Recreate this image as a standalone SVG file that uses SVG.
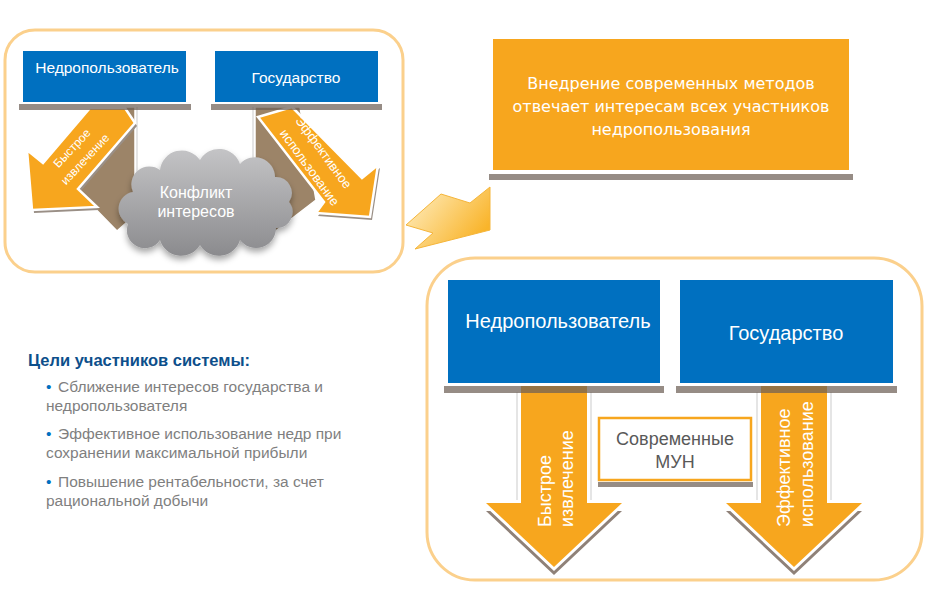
<svg xmlns="http://www.w3.org/2000/svg" width="934" height="606" viewBox="0 0 934 606">
<style>
.panel{fill:#fff;stroke:#fbd08c;stroke-width:3}
.blue{fill:#0070c0}
.bar{fill:#6e5f56;opacity:.72}
.wt{fill:#fff;font-family:"Liberation Sans",Arial,sans-serif}
.orange{fill:#f7a61e}
.brown{fill:#9c8468}
.lbl{font-family:"Liberation Sans",Arial,sans-serif}
.gray{fill:#7f7f7f;font-size:15.5px}
.dot{fill:#0070c0}
.vline{stroke:#dcdcdc;stroke-width:1.5}
.hshadow{fill:#9a8f86}
</style>
<defs>
<linearGradient id="cloudG" x1="0" y1="0" x2="0" y2="1">
<stop offset="0" stop-color="#c4c4c6"/>
<stop offset="1" stop-color="#8b8b8e"/>
</linearGradient>
<linearGradient id="yelG" x1="0" y1="0" x2="1" y2="0.6">
<stop offset="0" stop-color="#fff2cc"/>
<stop offset="1" stop-color="#f9b42a"/>
</linearGradient>
<filter id="sh" x="-20%" y="-20%" width="140%" height="150%">
<feDropShadow dx="0" dy="4" stdDeviation="3" flood-color="#000" flood-opacity="0.35"/>
</filter>
</defs>

<!-- panels -->
<rect id="panel-left" class="panel" x="5" y="30" width="398" height="242" rx="30"/>
<rect id="panel-right" class="panel" x="427" y="258" width="495" height="322" rx="48"/>

<!-- connectors / arrows -->
<g id="connectors">
  <!-- top-left brown shadows -->
  <line class="vline" x1="137" y1="107" x2="137" y2="222"/>
  <line class="vline" x1="253" y1="107" x2="253" y2="214"/>
  <polygon class="brown" points="90,107 135,107 135,215 117,231 77,190" stroke="#fff" stroke-width="1.5"/>
  <polygon class="brown" points="255,107 300,107 316,200 273,233 255,214" stroke="#fff" stroke-width="1.5"/>
  <!-- head shadows -->
  <polygon class="hshadow" points="90,108 125,108 135,123 78,189 97,207 32,210 27,150 43,163" transform="translate(2,3)"/>
  <polygon class="hshadow" points="258,117 292,107 362,178 378,165 370,217 316,213 324,202" transform="translate(2,3)"/>
  <!-- top-left orange arrows -->
  <polygon class="orange" points="90,108 125,108 135,123 78,189 97,207 32,210 27,150 43,163" stroke="#fff" stroke-width="2.5" stroke-linejoin="miter"/>
  <polygon class="orange" points="258,117 292,107 362,178 378,165 370,217 316,213 324,202" stroke="#fff" stroke-width="2.5" stroke-linejoin="miter"/>
  <text class="wt" font-size="12" text-anchor="middle" transform="translate(75,151) rotate(-47)">Быстрое</text>
  <text class="wt" font-size="12" text-anchor="middle" transform="translate(88,162) rotate(-47)">извлечение</text>
  <text class="wt" font-size="13" text-anchor="middle" transform="translate(320,155) rotate(54)">Эффективное</text>
  <text class="wt" font-size="13" text-anchor="middle" transform="translate(306,170) rotate(54)">использование</text>

  <!-- yellow transition arrow -->
  <polygon points="406,225 441,194 470,203 490,187 490,230 415,249 433,233" fill="url(#yelG)" stroke="#f5b53a" stroke-width="1"/>

  <!-- bottom arrows -->
  <line class="vline" x1="517" y1="392" x2="517" y2="500"/>
  <line class="vline" x1="591" y1="392" x2="591" y2="500"/>
  <line class="vline" x1="757" y1="392" x2="757" y2="500"/>
  <line class="vline" x1="831" y1="392" x2="831" y2="500"/>
  <polygon fill="#8f8178" points="521,392 587,392 587,503 622,503 554,567 486,503 521,503" transform="translate(0,8)"/>
  <polygon fill="#fff" points="521,392 587,392 587,503 622,503 554,567 486,503 521,503" transform="translate(0,4)"/>
  <polygon class="orange" points="521,386 587,386 587,503 622,503 554,567 486,503 521,503"/>
  <polygon fill="#8f8178" points="761,392 827,392 827,503 862,503 794,567 726,503 761,503" transform="translate(0,8)"/>
  <polygon fill="#fff" points="761,392 827,392 827,503 862,503 794,567 726,503 761,503" transform="translate(0,4)"/>
  <polygon class="orange" points="761,386 827,386 827,503 862,503 794,567 726,503 761,503"/>
  <text class="wt" font-size="18" transform="translate(551,527) rotate(-90)">Быстрое</text>
  <text class="wt" font-size="18" transform="translate(573,527) rotate(-90)">извлечение</text>
  <text class="wt" font-size="18" transform="translate(790,527) rotate(-90)">Эффективное</text>
  <text class="wt" font-size="18" transform="translate(813,527) rotate(-90)">использование</text>
</g>

<!-- top-left nodes -->
<g id="node-user-top">
  <rect class="bar" x="19" y="104" width="172" height="6"/>
  <rect class="blue" x="23" y="51" width="163" height="51"/>
  <text class="wt" font-size="15.5" x="107" y="73" text-anchor="middle">Недропользователь</text>
</g>
<g id="node-state-top">
  <rect class="bar" x="211" y="104" width="171" height="6"/>
  <rect class="blue" x="215" y="51" width="163" height="51"/>
  <text class="wt" font-size="15.5" x="296" y="83" text-anchor="middle">Государство</text>
</g>
<g id="node-conflict">
  <path d="M133,192 A18,18 0 0 1 160,170 A22,22 0 0 1 200,160 A22,22 0 0 1 240,164 A20,20 0 0 1 275,177 A16,16 0 0 1 289,202 A16,16 0 0 1 276,228 A20,20 0 0 1 240,240 A22,22 0 0 1 200,245 A22,22 0 0 1 160,240 A18,18 0 0 1 128,224 A17,17 0 0 1 133,192 Z" fill="url(#cloudG)" filter="url(#sh)"/>
  <text class="wt" font-size="16" x="196" y="198" text-anchor="middle">Конфликт</text>
  <text class="wt" font-size="16" x="196" y="217" text-anchor="middle">интересов</text>
</g>

<!-- top-right node -->
<g id="node-methods">
  <rect class="bar" x="489" y="174" width="364" height="6"/>
  <rect class="orange" x="493" y="39" width="356" height="131"/>
  <g font-family="'DejaVu Sans',Verdana,sans-serif" font-size="16" fill="#fff" text-anchor="middle">
    <text x="671" y="89">Внедрение современных методов</text>
    <text x="671" y="112">отвечает интересам всех участников</text>
    <text x="671" y="135">недропользования</text>
  </g>
</g>

<!-- bottom-right nodes -->
<g id="node-user-bottom">
  <rect class="bar" x="444" y="386" width="220" height="7"/>
  <rect class="blue" x="448" y="280" width="212" height="103"/>
  <text class="wt" font-size="20" x="558" y="328" text-anchor="middle">Недропользователь</text>
</g>
<g id="node-state-bottom">
  <rect class="bar" x="676" y="386" width="221" height="7"/>
  <rect class="blue" x="680" y="280" width="213" height="103"/>
  <text class="wt" font-size="20" x="786" y="340" text-anchor="middle">Государство</text>
</g>
<g id="node-mun">
  <rect class="bar" x="598" y="482" width="155" height="5"/>
  <rect x="599" y="418" width="152" height="62" fill="#fff" stroke="#f7a61e" stroke-width="2.5"/>
  <text class="lbl" font-size="18" fill="#595959" x="675" y="445" text-anchor="middle">Современные</text>
  <text class="lbl" font-size="18" fill="#595959" x="675" y="468" text-anchor="middle">МУН</text>
</g>

<!-- goals text -->
<g id="goals" class="lbl">
  <text x="28" y="366" font-size="16.5" font-weight="bold" fill="#0d4f8b">Цели участников системы:</text>
  <text class="dot" x="46" y="392" font-size="15.5">•</text>
  <text class="gray" x="58" y="392">Сближение интересов государства и</text>
  <text class="gray" x="46" y="411">недропользователя</text>
  <text class="dot" x="46" y="439" font-size="15.5">•</text>
  <text class="gray" x="58" y="439">Эффективное использование недр при</text>
  <text class="gray" x="46" y="458">сохранении максимальной прибыли</text>
  <text class="dot" x="46" y="487" font-size="15.5">•</text>
  <text class="gray" x="58" y="487">Повышение рентабельности, за счет</text>
  <text class="gray" x="46" y="506">рациональной добычи</text>
</g>
</svg>
